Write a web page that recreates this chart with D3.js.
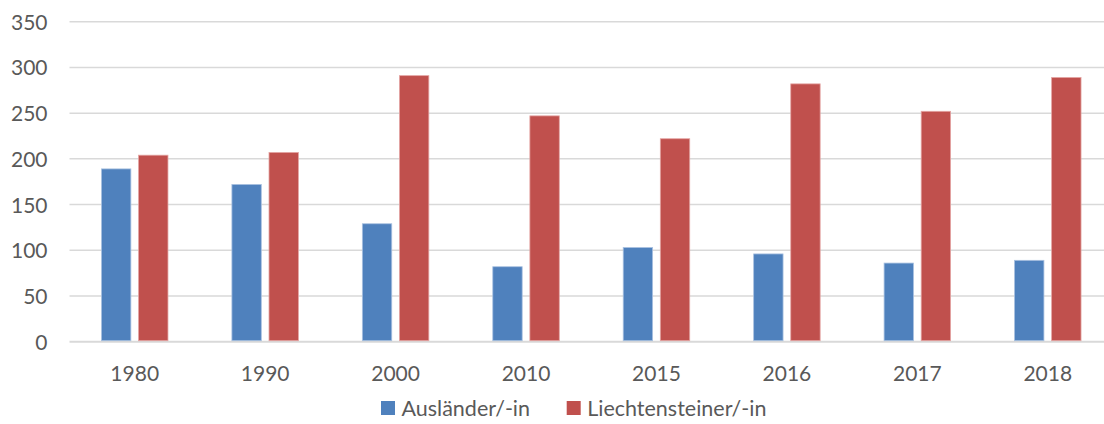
<!DOCTYPE html>
<html>
<head>
<meta charset="utf-8">
<script src="https://cdn.jsdelivr.net/npm/d3@7"></script>
<style>
html,body{margin:0;padding:0;background:#fff;}
svg{display:block;}
text{font-family:Lato,"Open Sans",sans-serif;fill:#595959;}
</style>
</head>
<body>
<svg id="chart" width="1104" height="424"></svg>
<script>
const categories = ["1980","1990","2000","2010","2015","2016","2017","2018"];
const auslaender = [189,172,129,82,103,96,86,89];
const liechtensteiner = [204,207,291,247,222,282,252,289];
const seriesNames = ["Ausländer/-in","Liechtensteiner/-in"];
const seriesColors = ["#4F81BD","#C0504D"];
const yTicks = [0,50,100,150,200,250,300,350];

const svg = d3.select("#chart");
const plotLeft = 69.5, plotRight = 1113, plotTop = 21.7, plotBottom = 341.7;

const x = d3.scaleBand().domain(categories).range([plotLeft, plotRight]).paddingInner(0).paddingOuter(0);
const y = d3.scaleLinear().domain([0,350]).range([plotBottom, plotTop]);
const barW = 29.4, gap = 7.7;

// gridlines
svg.append("g").selectAll("line").data(yTicks).join("line")
  .attr("x1", plotLeft).attr("x2", 1104)
  .attr("y1", d => y(d)).attr("y2", d => y(d))
  .attr("stroke", "#d9d9d9").attr("stroke-width", d => d===0 ? 2 : 1.5);

// y axis labels
const yAxis = d3.axisLeft(y).tickValues(yTicks).tickSize(0).tickPadding(0);
const ya = svg.append("g").attr("transform", `translate(47.5,0)`).call(yAxis);
ya.select(".domain").remove();
ya.selectAll("text").style("font-size","21px").attr("fill","#595959").attr("dy","0.36em");

// x axis labels
const xAxis = d3.axisBottom(x).tickSize(0).tickPadding(0);
const xa = svg.append("g").attr("transform", `translate(0,${plotBottom})`).call(xAxis);
xa.select(".domain").remove();
xa.selectAll("text").style("font-size","21px").attr("fill","#595959").attr("dy","0").attr("y", 39.5);

const data = [auslaender, liechtensteiner];
data.forEach((vals, si) => {
  svg.append("g").selectAll("rect").data(vals).join("rect")
    .attr("x", (d,i) => x(categories[i]) + x.bandwidth()/2 - barW - gap/2 + si*(barW+gap))
    .attr("width", barW)
    .attr("y", d => y(d))
    .attr("height", d => y(0) - y(d) - 1)
    .attr("fill", seriesColors[si])
    .attr("stroke", si===0 ? "#a9c1e0" : "#e4a5a3")
    .attr("stroke-width", 0.8);
});

// legend
const legendX = [381, 566.7];
seriesNames.forEach((n, i) => {
  svg.append("rect").attr("x", legendX[i]).attr("y", 401).attr("width", 14).attr("height", 14)
    .attr("fill", seriesColors[i]);
  svg.append("text").attr("x", legendX[i] + 20.5).attr("y", 415.5)
    .style("font-size","21.5px").text(n);
});
</script>
</body>
</html>
